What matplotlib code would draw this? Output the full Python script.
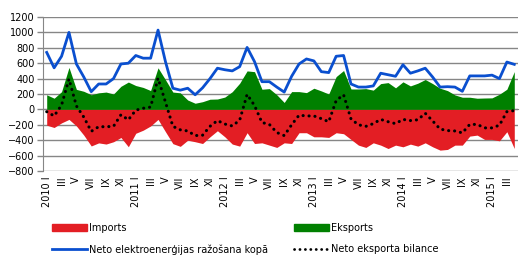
import matplotlib
matplotlib.use("Agg")
import matplotlib.pyplot as plt
from matplotlib.patches import Patch
from matplotlib.lines import Line2D

# monthly values, 2010 I .. 2015 IV (GWh)
years = [2010, 2011, 2012, 2013, 2014, 2015]
roman = ["I", "II", "III", "IV", "V", "VI", "VII", "VIII", "IX", "X", "XI", "XII"]

net_production = [740, 540, 690, 1000, 590, 420, 230, 330, 330, 400, 590, 600,
                  700, 665, 665, 1030, 620, 275, 250, 275, 190, 280, 400, 535,
                  515, 500, 555, 805, 620, 360, 360, 290, 225, 430, 590, 655,
                  630, 490, 478, 690, 700, 330, 290, 290, 305, 470, 450, 430,
                  580, 470, 500, 535, 420, 290, 295, 290, 235, 435, 435, 435,
                  445, 400, 615, 585]

exports = [190, 145, 230, 545, 260, 235, 190, 215, 225, 200, 300, 355,
           310, 285, 245, 540, 385, 225, 215, 122, 80, 100, 132, 135,
           160, 230, 340, 500, 490, 262, 270, 190, 90, 231, 231, 218,
           275, 240, 200, 426, 505, 265, 265, 270, 250, 335, 348, 280,
           358, 305, 340, 388, 335, 275, 244, 188, 158, 158, 145, 148,
           150, 197, 262, 491]

imports = [-205, -235, -175, -130, -215, -335, -475, -435, -450, -420, -365, -485,
           -310, -270, -215, -130, -290, -445, -480, -400, -420, -443, -356, -277,
           -356, -450, -477, -303, -443, -434, -464, -494, -434, -443, -303, -303,
           -356, -356, -364, -303, -316, -390, -464, -494, -434, -464, -508, -464,
           -486, -451, -477, -434, -486, -529, -520, -464, -464, -347, -334, -390,
           -390, -408, -290, -508]

balance = [-30, -85, 55, 395, 45, -100, -285, -225, -225, -220, -70, -135,
           -10, 15, 30, 405, 95, -220, -265, -280, -340, -335, -220, -145,
           -190, -215, -140, 195, 50, -170, -195, -300, -340, -200, -75, -85,
           -85, -120, -160, 115, 190, -125, -200, -220, -185, -130, -160, -185,
           -130, -145, -135, -50, -150, -255, -275, -280, -305, -195, -195, -240,
           -240, -205, -30, -15]

RED = "#e31e24"
GREEN = "#008000"
BLUE = "#0a4fcf"
GRID = "#868686"

plt.rcParams["font.family"] = ["DejaVu Sans"]

fig = plt.figure(figsize=(5.28, 2.66), dpi=100)
ax = fig.add_axes([43 / 528, 1 - 171 / 266, 475 / 528, 154 / 266])

x = list(range(len(net_production)))
ax.fill_between(x, 0, exports, color=GREEN, linewidth=0, zorder=2)
ax.fill_between(x, imports, 0, color=RED, linewidth=0, zorder=2)
ax.plot(x, net_production, color=BLUE, linewidth=2.0, zorder=4)
ax.plot(x, balance, color="black", linewidth=2.2, linestyle=(0, (0.05, 1.9)),
        dash_capstyle="round", zorder=5)

ax.set_xlim(-0.5, len(x) - 0.5)
ax.set_ylim(-800, 1200)
ax.set_yticks(range(-800, 1201, 200))
ax.grid(axis="y", color=GRID, linewidth=1.0, zorder=0)
ax.set_axisbelow(True)
ax.tick_params(axis="y", length=4, width=1, color=GRID, labelsize=7, pad=2)

# category labels every second month
labels = []
for i in x:
    yr, m = divmod(i, 12)
    labels.append(f"{years[yr]} {roman[m]}" if m == 0 else roman[m])
ax.set_xticks(x[::2])
ax.set_xticklabels(labels[::2], rotation=90, fontsize=7, va="top")
ax.tick_params(axis="x", length=0, pad=4)

for s in ("top", "right", "bottom"):
    ax.spines[s].set_visible(False)
ax.spines["left"].set_color(GRID)

# category axis crossing at zero, ticks between months
zero_axis = ax.secondary_xaxis(0.4)
zero_axis.set_xticks([i + 0.5 for i in x[:-1]])
zero_axis.set_xticklabels([])
zero_axis.tick_params(length=3, width=1, color="#8aa0b0", direction="out")
zero_axis.spines["bottom"].set_color(GRID)

handles = [Patch(color=RED, label="Imports"),
           Line2D([], [], color=BLUE, linewidth=2.0, label="Neto elektroenerģijas ražošana kopā"),
           Patch(color=GREEN, label="Eksports"),
           Line2D([], [], color="black", linewidth=2.0, linestyle=(0, (0.05, 1.9)),
                  dash_capstyle="round", label="Neto eksporta bilance")]
fig.legend(handles=handles, ncol=2, loc="upper left", bbox_to_anchor=(48 / 528, 1 - 219 / 266),
           frameon=False, fontsize=7, handlelength=3.6, handleheight=0.7,
           handletextpad=0.25, columnspacing=2.6, labelspacing=1.15, borderaxespad=0)

fig.savefig("out.png", dpi=100)
